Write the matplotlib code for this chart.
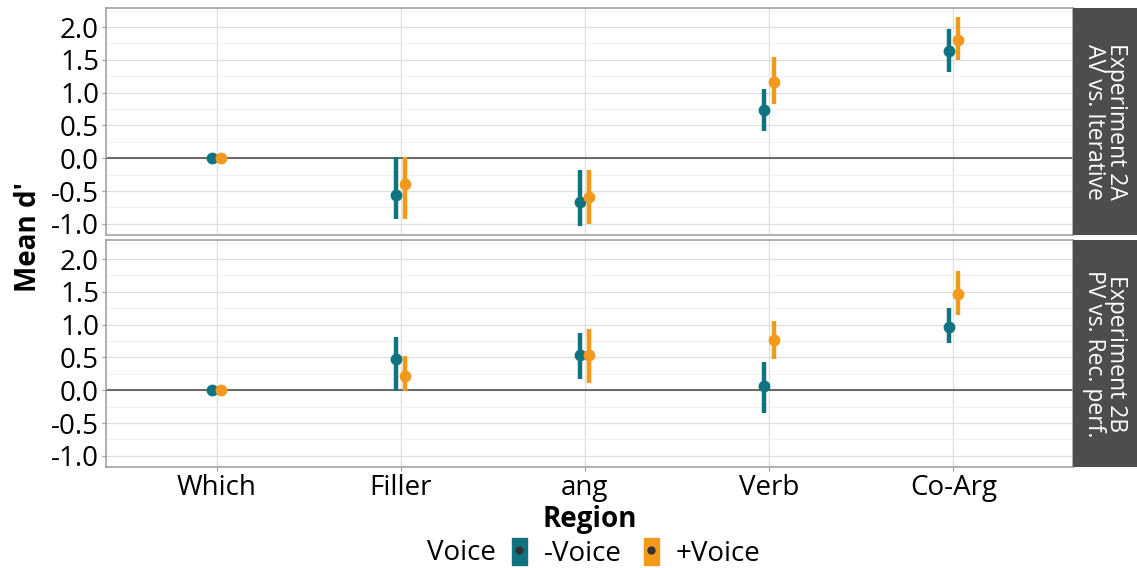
import numpy as np
import matplotlib
matplotlib.use('agg')
import matplotlib.pyplot as plt
from matplotlib.patches import Patch, Rectangle
from matplotlib.lines import Line2D
from matplotlib.ticker import MultipleLocator

plt.rcParams['font.family'] = ['Open Sans', 'DejaVu Sans']

regions = ['Which', 'Filler', 'ang', 'Verb', 'Co-Arg']
panels = ['Experiment 2A\nAV vs. Iterative', 'Experiment 2B\nPV vs. Rec. perf.']

# Experiment 2A: mean, lower, upper
a_minus_mean = [0.0, -0.56, -0.66, 0.73, 1.64]
a_minus_lo = [0.0, -0.92, -1.03, 0.42, 1.32]
a_minus_hi = [0.0, 0.02, -0.18, 1.06, 1.97]
a_plus_mean = [0.0, -0.40, -0.59, 1.16, 1.80]
a_plus_lo = [0.0, -0.92, -1.00, 0.82, 1.49]
a_plus_hi = [0.0, 0.02, -0.18, 1.55, 2.15]

# Experiment 2B
b_minus_mean = [0.0, 0.48, 0.54, 0.06, 0.97]
b_minus_lo = [0.0, -0.01, 0.17, -0.34, 0.72]
b_minus_hi = [0.0, 0.81, 0.88, 0.43, 1.25]
b_plus_mean = [0.0, 0.21, 0.54, 0.77, 1.47]
b_plus_lo = [0.0, -0.01, 0.11, 0.48, 1.15]
b_plus_hi = [0.0, 0.52, 0.93, 1.06, 1.82]

voices = ['-Voice', '+Voice']
colors = ['#0F7480', '#F39A1C']

data = [
    [(a_minus_mean, a_minus_lo, a_minus_hi), (a_plus_mean, a_plus_lo, a_plus_hi)],
    [(b_minus_mean, b_minus_lo, b_minus_hi), (b_plus_mean, b_plus_lo, b_plus_hi)],
]

fig = plt.figure(figsize=(11.37, 5.68), dpi=100)
left, right = 106 / 1137, 1073 / 1137
boxes = [(8, 235), (240, 467)]
x = np.arange(1, len(regions) + 1)
dodge = 0.025

for i, (top, bot) in enumerate(boxes):
    ax = fig.add_axes([left, 1 - bot / 568, right - left, (bot - top) / 568])
    ax.set_xlim(0.4, 5.65)
    ax.set_ylim(-1.17, 2.29)
    ax.yaxis.set_minor_locator(MultipleLocator(0.25))
    ax.set_xticks(x)
    ax.grid(which='major', color='#DEDEDE', lw=0.9)
    ax.grid(which='minor', axis='y', color='#EFEFEF', lw=0.7)
    ax.set_axisbelow(True)
    ax.axhline(0, color='#444444', lw=1.1, zorder=1)
    for sp in ax.spines.values():
        sp.set_color('#9A9A9A')
        sp.set_linewidth(1.1)
    ax.tick_params(axis='both', which='major', color='#9A9A9A', length=3,
                   labelsize=20, labelcolor='black', pad=2)
    ax.tick_params(which='minor', length=0)
    ax.set_yticks(np.arange(-1.0, 2.01, 0.5))
    ax.set_yticklabels(['%.1f' % v for v in np.arange(-1.0, 2.01, 0.5)])
    if i == 0:
        ax.tick_params(axis='x', length=0, labelbottom=False)
    else:
        ax.set_xticklabels(regions)

    for j, (mean, lo, hi) in enumerate(data[i]):
        xs = x + (2 * j - 1) * dodge
        ax.vlines(xs, lo, hi, color=colors[j], lw=3.2, zorder=3)
        ax.plot(xs, mean, 'o', color=colors[j], ms=7.5, zorder=4)

    # facet strip
    sax = fig.add_axes([right, 1 - bot / 568, 1 - right, (bot - top) / 568])
    sax.set_xlim(0, 1)
    sax.set_ylim(0, 1)
    sax.add_patch(Rectangle((0, 0), 1, 1, color='#4D4D4D'))
    sax.axis('off')
    sax.text(0.5, 0.5, panels[i], rotation=270, ha='center', va='center',
             color='white', fontsize=16.5, linespacing=0.85)

fig.text(0.012, (1 - 467 / 568 + 1 - 8 / 568) / 2, "Mean d'", rotation=90,
         ha='left', va='center', fontsize=20, fontweight='bold')
fig.text((left + right) / 2, 1 - 519 / 568, 'Region', ha='center', va='center',
         fontsize=20, fontweight='bold')

fig.text(461 / 1137, 1 - 553 / 568, 'Voice', ha='center', va='center', fontsize=20)
handles = []
for c in colors:
    handles.append((Patch(facecolor=c, edgecolor=c),
                    Line2D([], [], color='#333333', marker='o', ls='', ms=5)))
fig.legend(handles, voices, loc='center', bbox_to_anchor=(636 / 1137, 1 - 553 / 568),
           ncol=2, frameon=False, fontsize=20, handlelength=0.55, handleheight=1.1,
           handletextpad=0.6, columnspacing=0.8, borderpad=0)

plt.savefig('out.png', dpi=100)
